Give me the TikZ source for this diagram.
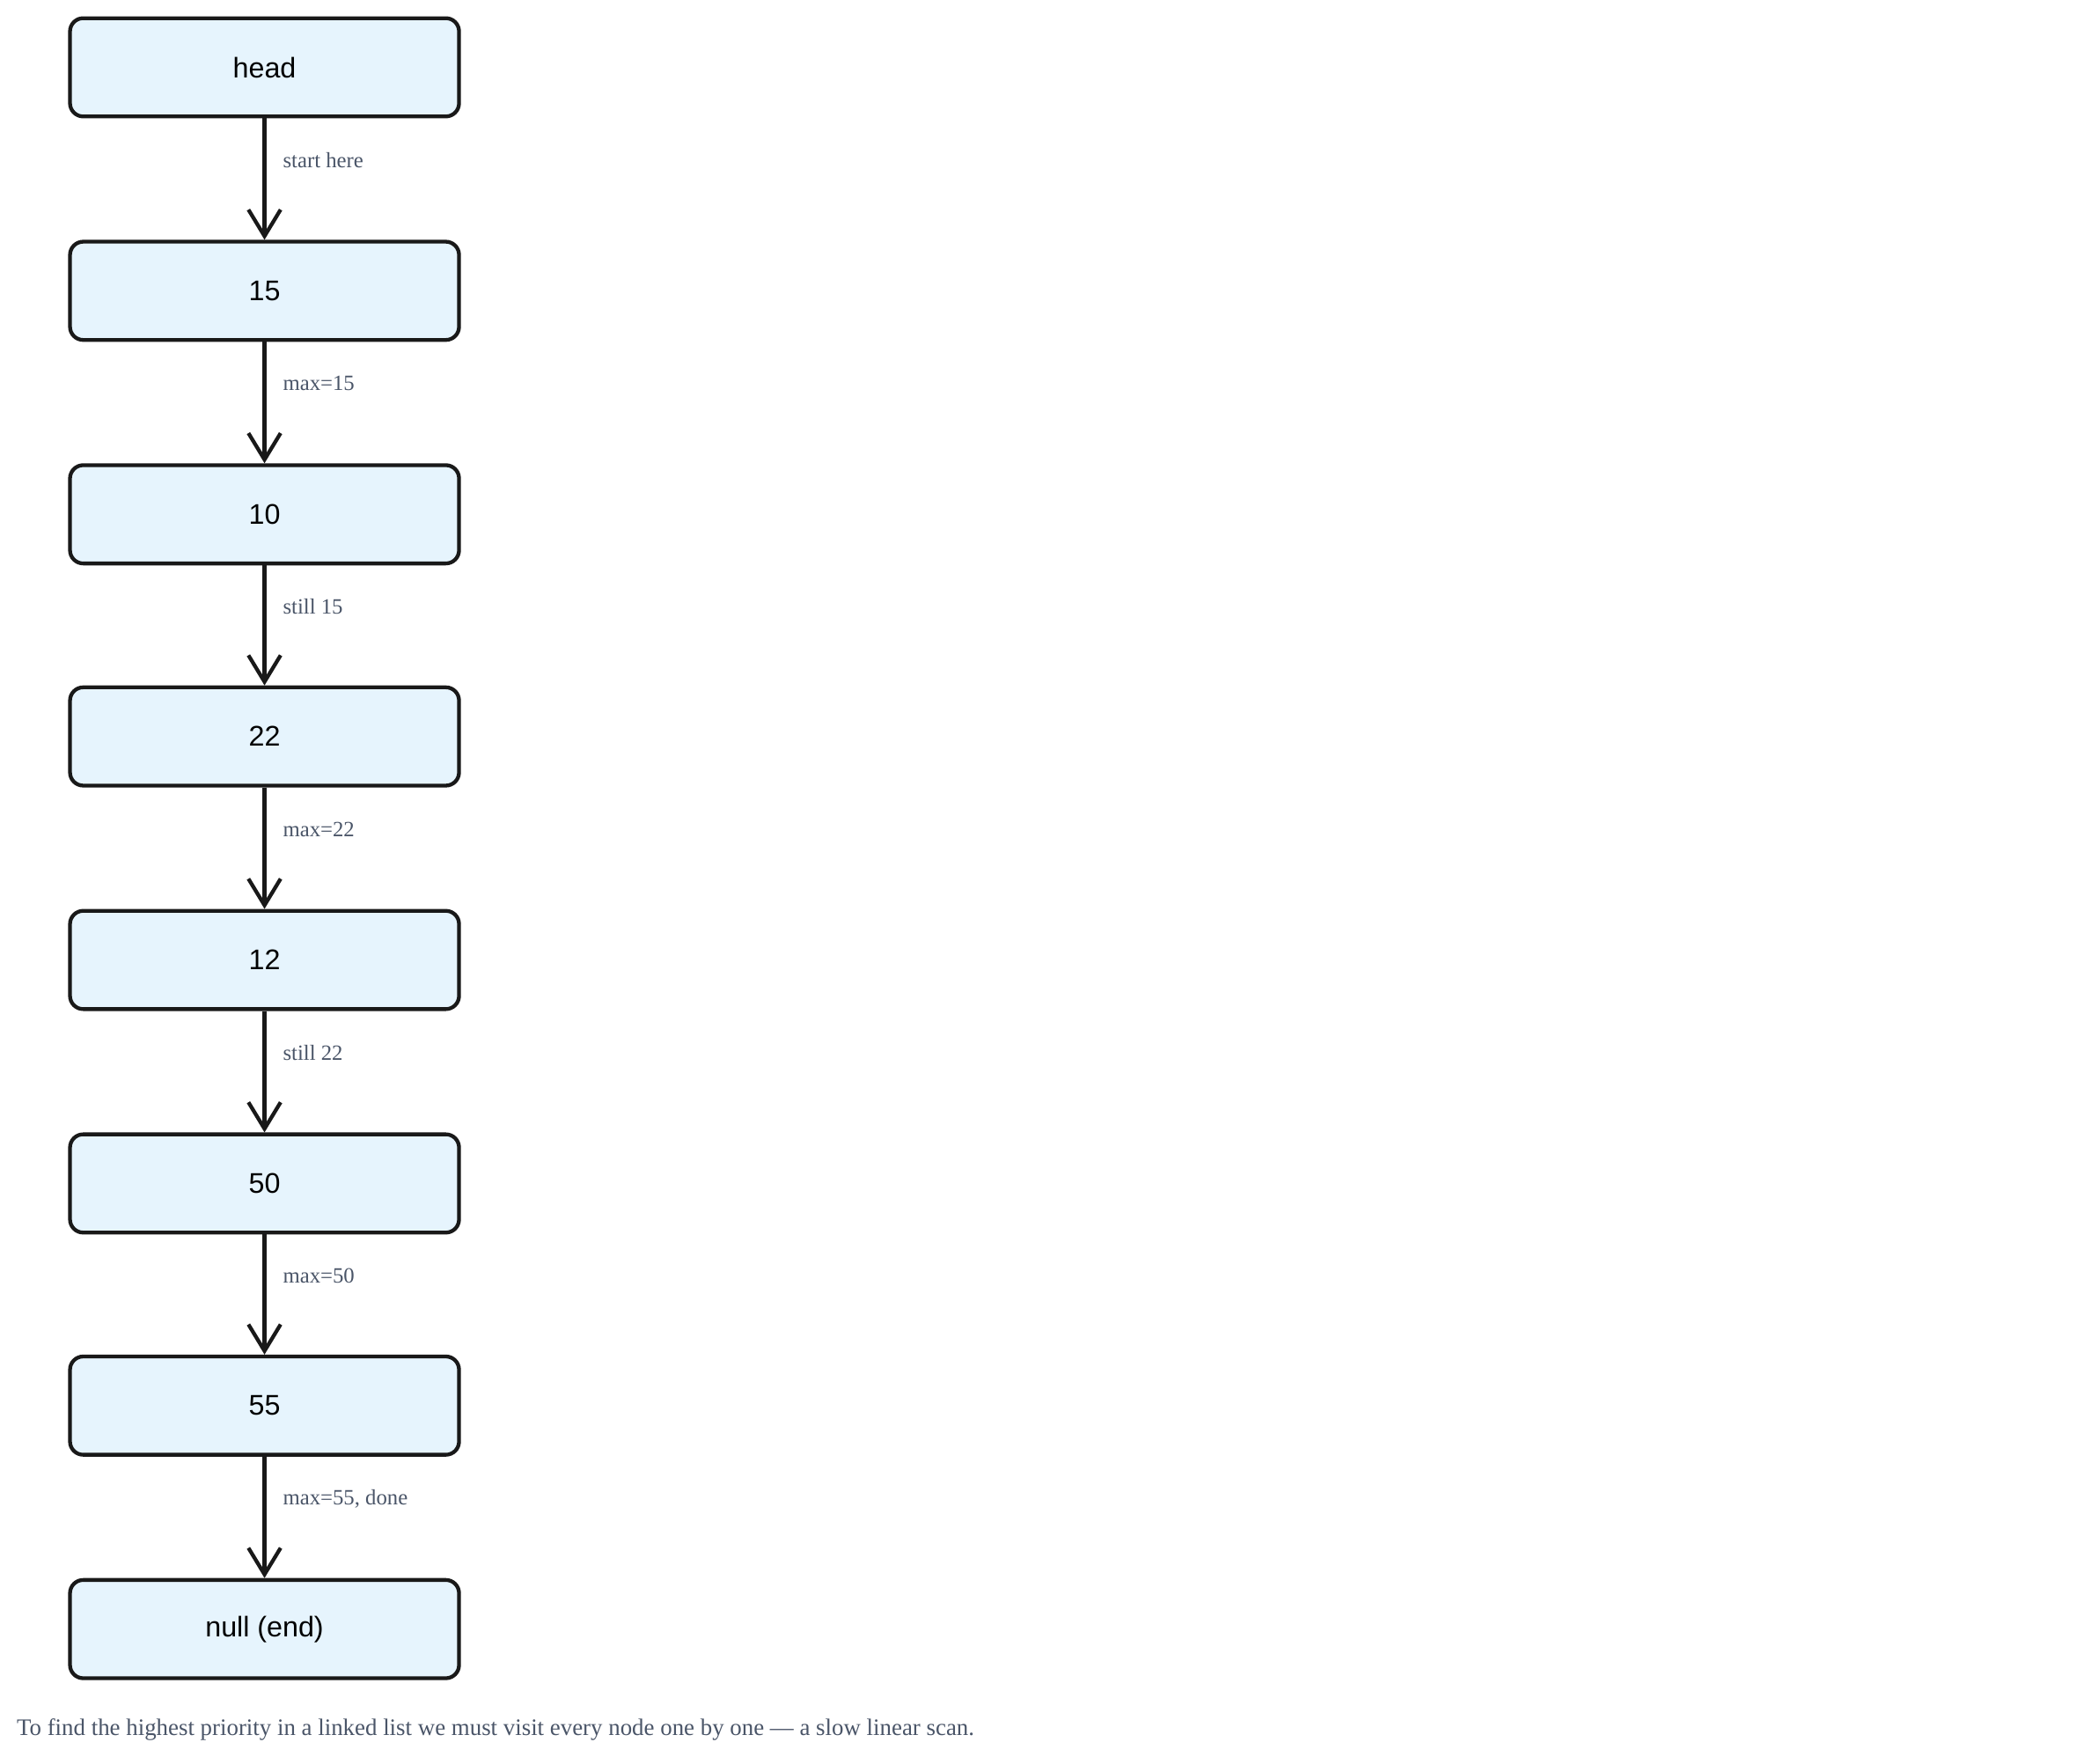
\documentclass[tikz,border=0pt]{standalone}
\usepackage{fontspec}
\setsansfont{Liberation Sans}
\setmainfont{Liberation Serif}
\usetikzlibrary{arrows.meta}
\definecolor{boxfill}{HTML}{E6F4FD}
\definecolor{lab}{HTML}{4A5568}
\begin{document}
\begin{tikzpicture}[x=0.05cm,y=-0.05cm,
  lbox/.style={draw=black!90,line width=4pt,fill=boxfill,rounded corners=14pt,
    minimum width=289*0.05cm,minimum height=73*0.05cm,inner sep=0pt,
    font=\sffamily\fontsize{30}{36}\selectfont},
  link/.style={draw=black!90,line width=4pt,-{Straight Barb[length=28pt,width=34pt,line width=4pt]}},
  elab/.style={font=\fontsize{23}{28}\selectfont,text=lab,anchor=west}]
\useasboundingbox (0,0) rectangle (1560,1305);
\foreach \n/\t/\y in {n0/head/50,n1/15/216,n2/10/382,n3/22/547,n4/12/713,n5/50/879,n6/55/1044,n7/null (end)/1210}
  \node[lbox] (\n) at (196.5,\y) {\t};
\foreach \a/\b/\l in {n0/n1/start here,n1/n2/max=15,n2/n3/still 15,n3/n4/max=22,n4/n5/still 22,n5/n6/max=50,n6/n7/{max=55, done}}{
  \draw[link] (\a.south) -- (\b.north) node[midway,elab,xshift=0.5cm,yshift=0.7cm] {\l};
}
\node[anchor=west,font=\fontsize{25}{30}\selectfont,text=lab] (cap) at (10,1285)
  {To find the highest priority in a linked list we must visit every node one by one — a slow linear scan.};
\end{tikzpicture}
\end{document}
